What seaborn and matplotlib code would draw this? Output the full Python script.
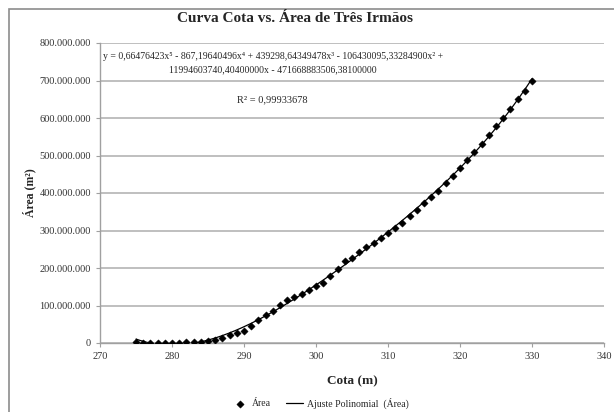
import numpy as np
import pandas as pd
import matplotlib
matplotlib.use('Agg')
import matplotlib.pyplot as plt
import seaborn as sb
from matplotlib.ticker import FuncFormatter
from matplotlib.patches import Rectangle

# Cota (m) and Área (millions of m²)
cota = list(range(275, 331))
area_mi = [1.5, 1, 1, 1, 1, 1, 1, 1.5, 2, 3,
           5, 9, 14, 21, 27, 31, 45, 61, 75, 86,
           102, 114, 123, 131, 141, 152, 161, 179, 197, 219,
           228, 243, 256, 267, 280, 294, 308, 321, 338, 356,
           373, 390, 406, 426, 445, 466, 489, 510, 532, 555,
           579, 601, 623, 650, 673, 699]

equation = ("y = 0,66476423x\u2075 - 867,19640496x\u2074 + 439298,64349478x\u00b3 - 106430095,33284900x\u00b2 +\n"
            "11994603740,40400000x - 471668883506,38100000")
r2_text = "R\u00b2 = 0,99933678"

df = pd.DataFrame({'Cota': cota, 'Area': np.array(area_mi) * 1e6})

# polynomial trendline (degree 5) fitted to the points
coef = np.polyfit(df['Cota'], df['Area'], 5)
xs = np.linspace(275, 330, 300)
fit = pd.DataFrame({'Cota': xs, 'Area': np.polyval(coef, xs)})

sb.set_style("white")
plt.rcParams['font.family'] = ['Liberation Serif', 'DejaVu Serif']

fig = plt.figure(figsize=(6.14, 4.12), dpi=100)
ax = fig.add_axes([100 / 614, 1 - 343 / 412, 504 / 614, 300 / 412])

# outer chart border
fig.patches.append(Rectangle((9 / 614, -0.05), 1.2, 1 - 9 / 412 + 0.05, transform=fig.transFigure,
                             fill=False, edgecolor='#8c8c8c', linewidth=1.2))

sb.lineplot(data=fit, x='Cota', y='Area', ax=ax, color='black', linewidth=0.9,
            label='Ajuste Polinomial  (Área)', zorder=2)
sb.scatterplot(data=df, x='Cota', y='Area', ax=ax, marker='D', color='black', s=14,
               edgecolor='black', linewidth=0.3, label='Área', zorder=3)

ax.set_xlim(270, 340)
ax.set_ylim(0, 800e6)
ax.set_xticks(range(270, 341, 10))
ax.set_yticks(np.arange(0, 800e6 + 1, 100e6))
ax.yaxis.set_major_formatter(FuncFormatter(lambda v, p: f"{int(v):,}".replace(',', '.')))

ax.grid(axis='y', color='#b4b4b4', linewidth=1.2)
ax.grid(axis='x', visible=False)
for s in ['top', 'right']:
    ax.spines[s].set_visible(False)
for s in ['left', 'bottom']:
    ax.spines[s].set_color('#a0a0a0')
    ax.spines[s].set_linewidth(1.0)
ax.tick_params(axis='both', labelsize=7.5, colors='#333333', length=3, width=0.8, direction='out',
               bottom=True, left=True)
ax.tick_params(axis='both', color='#a0a0a0')

ax.set_xlabel('Cota (m)', fontsize=9.5, fontweight='bold', labelpad=10)
ax.set_ylabel('Área (m²)', fontsize=8.5, fontweight='bold', labelpad=2)
fig.text(295 / 614, 1 - 18 / 412, 'Curva Cota vs. Área de Três Irmãos', fontsize=11, fontweight='bold',
         ha='center', va='center')

ax.text(273 / 614, 1 - 63 / 412, equation, transform=fig.transFigure, ha='center', va='center',
        fontsize=7, linespacing=1.6)
ax.text(272 / 614, 1 - 100 / 412, r2_text, transform=fig.transFigure, ha='center', va='center', fontsize=7.5)

# legend: marker first, then line
h, l = ax.get_legend_handles_labels()
order = [l.index('Área'), l.index('Ajuste Polinomial  (Área)')]
ax.legend([h[i] for i in order], [l[i] for i in order], loc='center', bbox_to_anchor=(320 / 614, 1 - 403 / 412),
          bbox_transform=fig.transFigure, ncol=2, frameon=False, fontsize=7, handlelength=1.8,
          columnspacing=1.5, handletextpad=0.4)

plt.savefig('out.png', dpi=100)
